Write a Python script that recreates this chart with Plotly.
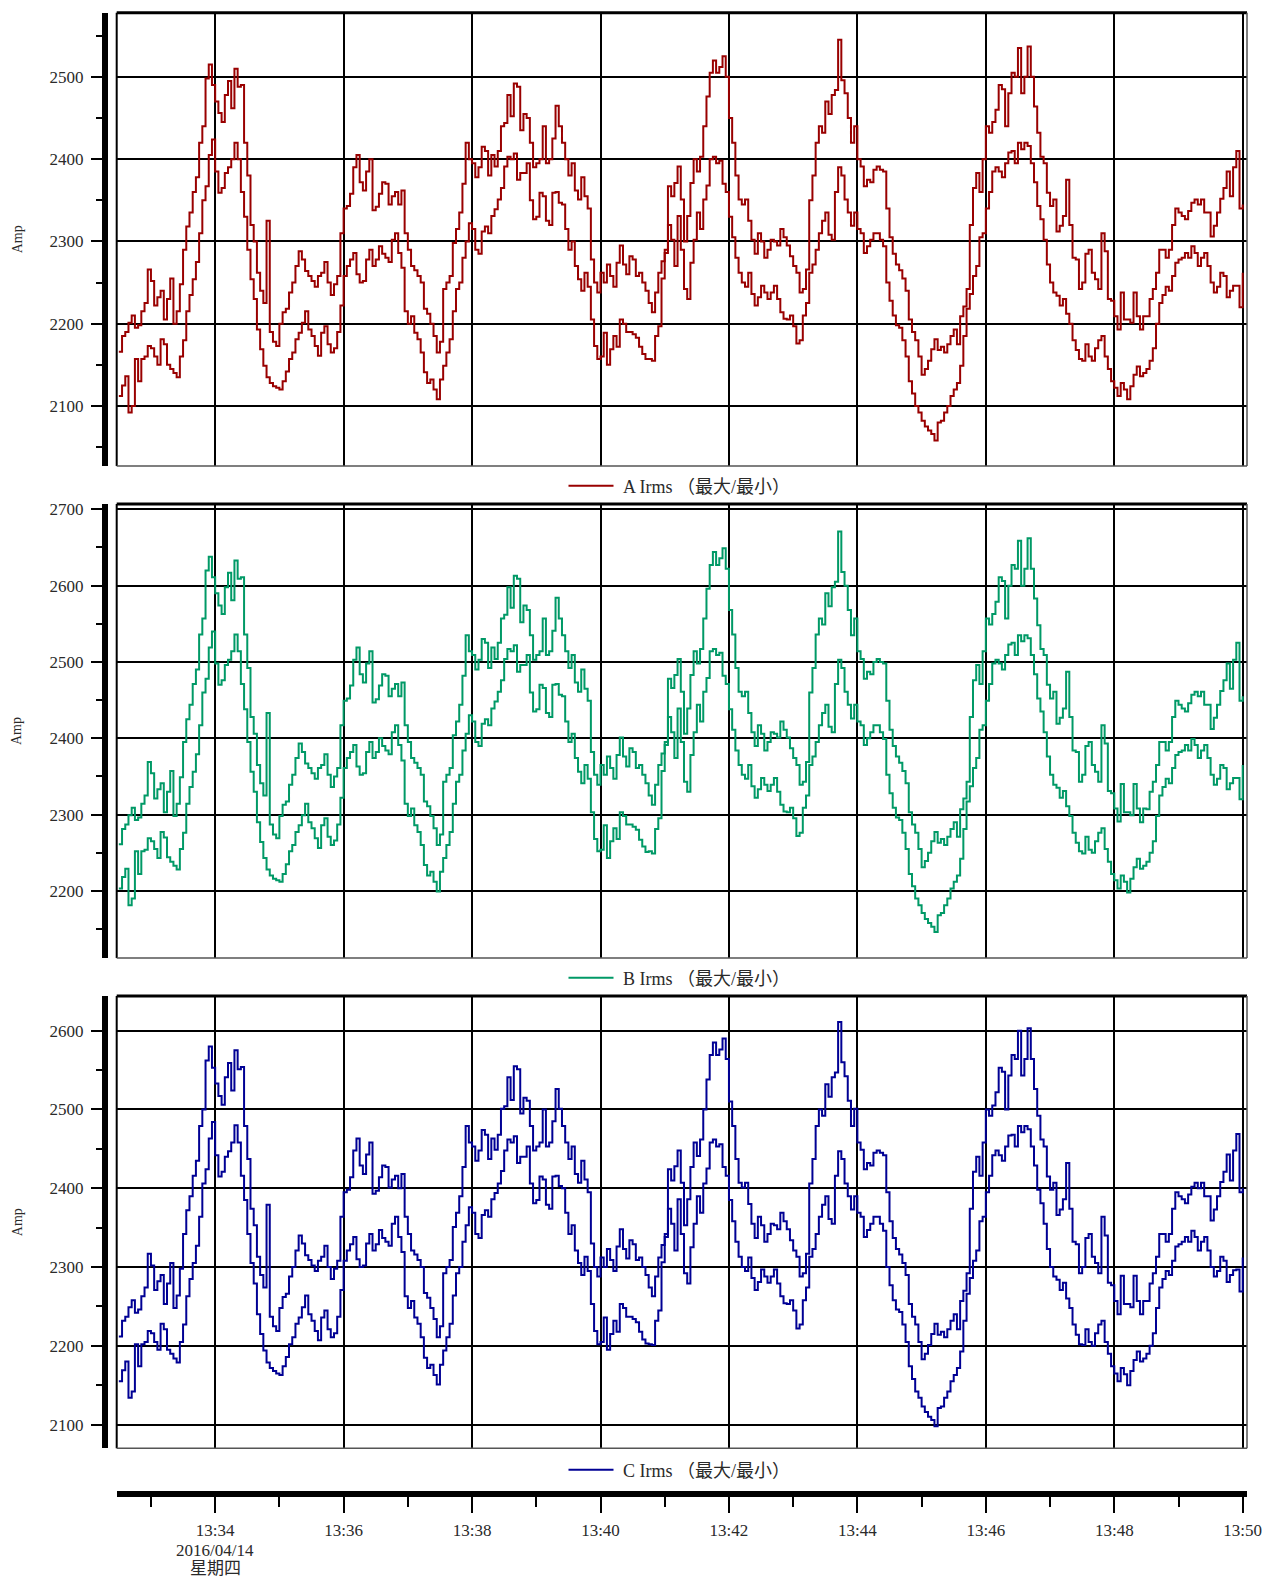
import pandas as pd
import plotly.graph_objects as go

# ---------------- data (3 s samples; listed as even-step values and in-between values) ----------------
times = pd.date_range("2016-04-14 13:32:30", periods=351, freq="3s")

a_max_even = [2166,2190,2210,2198,2225,2252,2232,2205,2255,2215,
2290,2335,2378,2440,2515,2470,2445,2495,2510,2490,
2380,2300,2240,2325,2178,2200,2218,2250,2288,2264,
2252,2258,2275,2235,2258,2340,2358,2405,2362,2400,
2342,2372,2345,2360,2362,2290,2265,2250,2212,2185,
2178,2250,2298,2335,2420,2395,2390,2410,2405,2410,
2444,2452,2488,2455,2420,2395,2440,2400,2465,2420,
2380,2362,2378,2340,2250,2262,2272,2245,2295,2260,
2278,2262,2240,2214,2262,2290,2355,2391,2300,2371,
2385,2440,2505,2505,2525,2450,2380,2345,2325,2285,
2300,2290,2300,2315,2295,2270,2238,2266,2380,2440,
2470,2478,2545,2480,2420,2400,2367,2372,2391,2385,
2305,2272,2255,2205,2180,2138,2155,2181,2172,2175,
2193,2209,2242,2365,2360,2440,2445,2490,2440,2505,
2535,2500,2500,2432,2395,2343,2312,2331,2320,2278,
2250,2290,2254,2310,2230,2209,2238,2205,2238,2193,
2209,2242,2290,2280,2320,2335,2327,2347,2345,2335,
2306,2335,2365,2355,2410,2345]
a_max_mid = [2185,2201,2195,2215,2266,2222,2240,2230,2200,2248,
2318,2360,2420,2498,2490,2456,2478,2462,2488,2420,
2320,2262,2225,2190,2173,2214,2238,2270,2278,2258,
2245,2262,2250,2248,2310,2343,2390,2372,2385,2338,
2358,2370,2355,2345,2310,2270,2258,2218,2200,2165,
2242,2258,2315,2370,2400,2378,2415,2380,2391,2440,
2478,2492,2435,2450,2390,2400,2395,2425,2440,2400,
2395,2351,2355,2278,2238,2250,2258,2274,2272,2282,
2258,2250,2225,2238,2276,2367,2371,2351,2331,2400,
2403,2476,2520,2512,2500,2420,2351,2351,2302,2310,
2280,2302,2295,2305,2282,2262,2242,2350,2420,2432,
2455,2484,2496,2450,2440,2391,2375,2387,2387,2340,
2285,2265,2240,2190,2160,2145,2169,2168,2165,2185,
2175,2221,2320,2383,2400,2432,2460,2485,2480,2500,
2480,2537,2464,2403,2359,2351,2319,2375,2280,2242,
2285,2262,2242,2288,2228,2193,2205,2201,2209,2209,
2230,2262,2290,2290,2340,2331,2337,2351,2351,2335,
2319,2352,2385,2390,2340]

a_min_even = [2112,2136,2100,2130,2160,2170,2150,2175,2145,2135,
2180,2235,2275,2350,2405,2385,2365,2390,2420,2360,
2290,2230,2169,2135,2124,2120,2142,2165,2189,2215,
2185,2161,2197,2165,2190,2258,2278,2260,2252,2290,
2278,2285,2275,2310,2268,2200,2189,2165,2128,2120,
2132,2165,2215,2250,2300,2315,2285,2318,2331,2351,
2391,2400,2375,2383,2350,2330,2355,2320,2360,2345,
2290,2270,2240,2245,2173,2160,2150,2185,2205,2190,
2187,2172,2157,2155,2197,2286,2302,2331,2242,2274,
2335,2351,2400,2395,2370,2330,2280,2250,2262,2222,
2246,2230,2246,2214,2205,2197,2180,2225,2272,2310,
2335,2302,2390,2351,2319,2315,2286,2302,2310,2294,
2228,2198,2180,2130,2100,2082,2070,2058,2082,2100,
2120,2149,2218,2258,2305,2340,2385,2385,2395,2410,
2420,2420,2395,2343,2302,2250,2234,2230,2200,2168,
2155,2160,2170,2185,2145,2122,2128,2108,2138,2136,
2145,2170,2225,2245,2258,2278,2286,2294,2270,2286,
2250,2245,2258,2240,2246,2262]
a_min_mid = [2125,2092,2157,2157,2173,2160,2181,2150,2140,2160,
2215,2254,2310,2367,2424,2359,2383,2400,2400,2330,
2254,2193,2149,2128,2122,2130,2157,2181,2201,2193,
2173,2189,2175,2170,2222,2270,2286,2250,2278,2270,
2294,2280,2302,2286,2215,2209,2181,2141,2132,2108,
2149,2181,2242,2280,2322,2290,2312,2310,2339,2365,
2403,2407,2383,2395,2327,2359,2325,2359,2347,2315,
2300,2254,2262,2205,2157,2189,2169,2172,2200,2190,
2183,2163,2157,2185,2255,2320,2270,2290,2230,2302,
2315,2368,2403,2398,2360,2305,2262,2245,2236,2232,
2238,2238,2230,2206,2210,2176,2210,2262,2290,2325,
2308,2360,2380,2335,2335,2310,2294,2310,2302,2250,
2210,2195,2160,2115,2092,2075,2066,2080,2092,2112,
2128,2185,2236,2270,2310,2360,2390,2378,2408,2395,
2412,2416,2372,2327,2272,2238,2222,2212,2180,2157,
2175,2155,2180,2160,2130,2112,2120,2124,2148,2140,
2155,2200,2235,2240,2274,2280,2280,2286,2280,2270,
2238,2262,2232,2246,2220]

b_max_even = [2261,2287,2309,2296,2325,2354,2333,2303,2357,2314,
2395,2444,2490,2557,2638,2590,2563,2617,2633,2611,
2492,2406,2341,2433,2274,2298,2317,2352,2393,2367,
2354,2361,2379,2336,2361,2449,2469,2519,2473,2514,
2451,2484,2455,2471,2473,2395,2368,2352,2311,2282,
2274,2352,2404,2444,2535,2509,2503,2525,2519,2525,
2562,2571,2609,2574,2535,2509,2557,2514,2584,2535,
2492,2473,2490,2449,2352,2365,2376,2347,2401,2363,
2382,2365,2341,2313,2365,2395,2466,2504,2406,2483,
2498,2557,2627,2627,2649,2568,2492,2455,2433,2390,
2406,2395,2406,2422,2401,2374,2339,2369,2492,2557,
2590,2598,2671,2600,2535,2514,2478,2484,2504,2498,
2411,2376,2357,2303,2276,2231,2250,2277,2268,2271,
2290,2307,2343,2476,2471,2557,2563,2611,2557,2627,
2659,2622,2622,2548,2509,2452,2419,2439,2428,2382,
2352,2395,2356,2417,2331,2308,2340,2303,2340,2290,
2307,2343,2395,2384,2428,2444,2435,2457,2455,2444,
2412,2444,2476,2465,2525,2455]
b_max_mid = [2281,2299,2293,2314,2369,2321,2341,2330,2298,2349,
2425,2471,2536,2620,2611,2574,2598,2581,2609,2536,
2428,2365,2325,2287,2269,2313,2339,2374,2382,2361,
2347,2365,2352,2350,2417,2452,2503,2484,2498,2447,
2469,2482,2465,2455,2417,2374,2361,2317,2298,2260,
2343,2361,2422,2482,2514,2490,2530,2492,2504,2557,
2598,2613,2552,2568,2503,2514,2509,2541,2557,2514,
2509,2461,2465,2382,2339,2352,2361,2378,2376,2387,
2361,2352,2325,2339,2380,2478,2483,2461,2439,2514,
2517,2596,2644,2636,2622,2536,2461,2461,2408,2417,
2384,2408,2401,2411,2387,2365,2343,2460,2536,2549,
2573,2605,2618,2568,2557,2504,2487,2500,2500,2449,
2390,2368,2341,2287,2255,2239,2265,2263,2260,2281,
2271,2321,2428,2496,2514,2549,2579,2606,2600,2622,
2600,2662,2583,2517,2470,2461,2427,2487,2384,2343,
2390,2365,2343,2393,2328,2291,2303,2299,2308,2308,
2330,2365,2395,2395,2449,2439,2446,2461,2461,2444,
2427,2462,2498,2503,2449]

b_min_even = [2203,2229,2190,2222,2254,2265,2243,2270,2238,2228,
2276,2336,2379,2460,2519,2498,2476,2503,2536,2471,
2395,2330,2264,2228,2216,2212,2235,2260,2286,2314,
2282,2256,2295,2260,2287,2361,2382,2363,2354,2395,
2382,2390,2379,2417,2371,2298,2286,2260,2220,2212,
2225,2260,2314,2352,2406,2422,2390,2425,2439,2461,
2504,2514,2487,2496,2460,2438,2466,2428,2471,2455,
2395,2374,2341,2347,2268,2254,2243,2282,2303,2287,
2284,2267,2251,2249,2295,2391,2408,2439,2343,2378,
2444,2461,2514,2509,2482,2438,2384,2352,2365,2322,
2348,2331,2348,2313,2303,2295,2276,2325,2376,2417,
2444,2408,2503,2461,2426,2422,2391,2408,2417,2399,
2328,2296,2276,2222,2190,2171,2158,2146,2171,2190,
2212,2242,2317,2361,2411,2449,2498,2498,2509,2525,
2535,2535,2509,2452,2408,2352,2335,2331,2298,2263,
2249,2254,2265,2282,2238,2214,2220,2198,2231,2229,
2238,2265,2325,2347,2361,2382,2391,2399,2374,2391,
2352,2347,2361,2341,2348,2365]
b_min_mid = [2218,2181,2252,2252,2269,2255,2277,2244,2233,2255,
2314,2356,2417,2478,2540,2470,2496,2514,2514,2438,
2356,2290,2243,2220,2214,2222,2252,2277,2299,2290,
2269,2286,2271,2266,2322,2374,2391,2352,2382,2374,
2400,2384,2408,2391,2314,2308,2277,2234,2225,2199,
2243,2277,2343,2384,2430,2395,2419,2417,2448,2476,
2517,2522,2496,2509,2435,2470,2433,2470,2457,2422,
2406,2356,2365,2303,2252,2286,2265,2268,2298,2287,
2280,2258,2252,2281,2357,2428,2374,2395,2330,2408,
2422,2479,2517,2512,2471,2411,2365,2347,2337,2333,
2339,2339,2330,2304,2309,2272,2309,2365,2395,2433,
2415,2471,2492,2444,2444,2417,2400,2417,2408,2352,
2309,2293,2255,2206,2181,2163,2153,2168,2181,2203,
2220,2281,2337,2374,2417,2471,2503,2490,2523,2509,
2527,2531,2484,2435,2376,2339,2322,2311,2276,2252,
2271,2250,2276,2255,2222,2203,2212,2216,2242,2233,
2250,2298,2336,2341,2378,2384,2384,2391,2384,2374,
2339,2365,2333,2348,2320]

c_max_even = [2212,2237,2258,2246,2274,2302,2282,2253,2305,2264,
2342,2390,2435,2500,2580,2533,2506,2559,2575,2554,
2437,2353,2290,2379,2225,2248,2266,2300,2340,2315,
2302,2308,2327,2285,2308,2395,2414,2463,2418,2458,
2397,2429,2401,2416,2418,2342,2316,2300,2261,2234,
2225,2300,2351,2390,2479,2453,2448,2468,2463,2468,
2504,2512,2551,2515,2479,2453,2500,2458,2526,2479,
2437,2418,2435,2395,2300,2312,2323,2295,2348,2311,
2329,2312,2290,2263,2312,2342,2410,2448,2353,2427,
2441,2500,2569,2569,2590,2510,2437,2401,2380,2337,
2353,2342,2353,2369,2348,2321,2288,2317,2437,2500,
2532,2541,2611,2542,2479,2458,2424,2429,2448,2442,
2358,2323,2305,2253,2227,2183,2201,2228,2218,2221,
2240,2257,2292,2421,2416,2500,2505,2553,2500,2569,
2600,2564,2564,2492,2453,2398,2366,2386,2374,2329,
2300,2342,2305,2364,2280,2257,2289,2253,2289,2240,
2257,2292,2342,2332,2374,2390,2381,2402,2400,2390,
2359,2390,2421,2410,2469,2400]
c_max_mid = [2232,2249,2242,2263,2317,2271,2290,2279,2248,2298,
2372,2416,2479,2562,2553,2517,2541,2524,2551,2479,
2374,2313,2274,2237,2219,2262,2288,2321,2330,2309,
2295,2313,2300,2298,2364,2398,2448,2429,2443,2393,
2414,2427,2411,2400,2364,2321,2309,2267,2248,2211,
2292,2309,2369,2427,2458,2435,2474,2437,2449,2501,
2541,2555,2495,2511,2448,2458,2453,2485,2501,2458,
2453,2407,2411,2330,2288,2300,2309,2326,2323,2334,
2309,2300,2274,2288,2328,2424,2428,2407,2386,2458,
2462,2538,2585,2576,2564,2479,2407,2407,2355,2364,
2332,2355,2348,2358,2334,2313,2292,2406,2479,2492,
2516,2547,2560,2511,2501,2449,2432,2445,2445,2395,
2337,2316,2290,2237,2205,2190,2215,2214,2211,2232,
2221,2270,2374,2440,2458,2492,2522,2548,2543,2564,
2543,2603,2526,2462,2415,2407,2373,2432,2332,2292,
2337,2313,2292,2340,2277,2240,2253,2249,2257,2257,
2279,2313,2342,2342,2395,2386,2392,2407,2407,2390,
2373,2408,2443,2448,2395]

c_min_even = [2155,2180,2142,2174,2205,2216,2195,2221,2190,2179,
2227,2285,2327,2406,2463,2442,2421,2447,2480,2416,
2342,2279,2215,2179,2168,2163,2186,2211,2236,2264,
2232,2207,2245,2211,2237,2308,2329,2310,2302,2342,
2329,2337,2327,2364,2319,2248,2236,2211,2172,2163,
2176,2211,2264,2300,2353,2369,2337,2372,2386,2406,
2448,2458,2432,2440,2406,2385,2411,2374,2416,2400,
2342,2321,2290,2295,2219,2205,2195,2232,2253,2237,
2234,2218,2203,2201,2245,2338,2355,2386,2292,2325,
2390,2406,2458,2453,2427,2385,2332,2300,2312,2271,
2297,2280,2297,2263,2253,2245,2227,2274,2323,2364,
2390,2355,2447,2406,2373,2369,2338,2355,2364,2346,
2277,2246,2227,2174,2142,2123,2110,2098,2123,2142,
2163,2193,2266,2308,2358,2395,2442,2442,2453,2468,
2479,2479,2453,2398,2355,2300,2284,2280,2248,2214,
2201,2205,2216,2232,2190,2165,2172,2150,2182,2180,
2190,2216,2274,2295,2308,2329,2338,2346,2321,2338,
2300,2295,2308,2290,2297,2312]
c_min_mid = [2169,2134,2202,2202,2219,2205,2228,2195,2184,2205,
2263,2305,2364,2424,2484,2415,2440,2458,2458,2385,
2305,2240,2194,2172,2165,2174,2202,2228,2249,2240,
2219,2236,2221,2216,2271,2321,2338,2300,2330,2321,
2347,2332,2355,2338,2263,2257,2228,2185,2176,2151,
2194,2228,2292,2332,2376,2342,2366,2364,2394,2422,
2462,2466,2440,2453,2381,2415,2379,2415,2403,2369,
2353,2305,2313,2253,2202,2236,2215,2218,2248,2237,
2230,2208,2202,2232,2306,2374,2321,2342,2279,2355,
2369,2425,2462,2456,2416,2358,2313,2295,2286,2281,
2288,2288,2279,2254,2258,2222,2258,2313,2342,2379,
2361,2416,2437,2390,2390,2364,2347,2364,2355,2300,
2258,2243,2205,2158,2134,2116,2106,2121,2134,2155,
2172,2232,2286,2321,2364,2416,2448,2435,2467,2453,
2471,2475,2429,2381,2323,2288,2271,2260,2227,2202,
2221,2200,2227,2205,2174,2155,2164,2168,2193,2184,
2200,2248,2285,2290,2326,2332,2332,2338,2332,2321,
2288,2313,2281,2296,2269]

major_ticks = ["2016-04-14 13:%02d:00" % m for m in range(34, 51, 2)]
minor_ticks = ["2016-04-14 13:%02d:00" % m for m in range(33, 50, 2)]
tick_text = ["13:%02d" % m for m in range(34, 51, 2)]
date_lines = ["2016/04/14", "星期四"]


def merge(even, mid):
    out = []
    for i, v in enumerate(even):
        out.append(v)
        if i < len(mid):
            out.append(mid[i])
    return out


panels = [
    ("\u00a0A Irms （最大/最小）", merge(a_max_even, a_max_mid), merge(a_min_even, a_min_mid), "#990000", [2027, 2578]),
    ("\u00a0B Irms （最大/最小）", merge(b_max_even, b_max_mid), merge(b_min_even, b_min_mid), "#009966", [2112, 2707]),
    ("\u00a0C Irms （最大/最小）", merge(c_max_even, c_max_mid), merge(c_min_even, c_min_mid), "#000094", [2070, 2644]),
]

# ---------------- layout geometry (pixels) ----------------
W, H = 1265, 1578
X_LEFT, X_RIGHT = 116.7, 1247.0
PANEL_PX = [(12.7, 466.0), (504.0, 958.0), (996.0, 1448.3)]
LEGEND_Y = [486, 978, 1470]
YAXIS_X = 105.0
XAXIS_Y = 1494.0

FONT = "Liberation Serif, Noto Sans CJK SC, serif"
TXT = "#2a2a2a"

fig = go.Figure()
layout = dict(
    width=W, height=H, margin=dict(l=0, r=0, t=0, b=0, autoexpand=False),
    paper_bgcolor="white", plot_bgcolor="white",
    font=dict(family=FONT, size=17, color=TXT),
    shapes=[], annotations=[],
)

x_range = ["2016-04-14 13:32:28", "2016-04-14 13:50:04"]

for k, (name, vmax, vmin, color, yr) in enumerate(panels):
    n = "" if k == 0 else str(k + 1)
    xa, ya = "x" + n, "y" + n
    leg = "legend" + n
    fig.add_trace(go.Scatter(x=times, y=vmax, mode="lines", name=name,
                             line=dict(color=color, width=2, shape="hv"),
                             xaxis=xa, yaxis=ya, legend=leg, showlegend=True))
    fig.add_trace(go.Scatter(x=times, y=vmin, mode="lines", name=name,
                             line=dict(color=color, width=2, shape="hv"),
                             xaxis=xa, yaxis=ya, legend=leg, showlegend=False))

    top, bot = PANEL_PX[k]
    xaxis = dict(
        domain=[X_LEFT / W, X_RIGHT / W], range=x_range, type="date",
        tickmode="array", tickvals=major_ticks,
        showgrid=True, gridcolor="black", gridwidth=2,
        zeroline=False, showline=False, ticks="", automargin=False,
        showticklabels=False, anchor=ya,
    )
    if k == 2:
        xaxis.update(
            anchor="free", position=1 - XAXIS_Y / H,
            showline=True, linecolor="black", linewidth=6,
            ticks="outside", ticklen=16, tickwidth=2, tickcolor="black",
            ticklabelstandoff=3,
            showticklabels=True, ticktext=tick_text,
            tickfont=dict(family=FONT, size=17, color=TXT),
            minor=dict(tickmode="array", tickvals=minor_ticks, ticks="outside",
                       ticklen=10, tickwidth=2, tickcolor="black", showgrid=False),
        )
    else:
        xaxis.update(matches="x3")
    layout["xaxis" + n] = xaxis

    layout["yaxis" + n] = dict(
        domain=[1 - bot / H, 1 - top / H], range=yr,
        anchor="free", position=YAXIS_X / W, automargin=False,
        tickmode="linear", tick0=0, dtick=100,
        showgrid=True, gridcolor="black", gridwidth=2, zeroline=False,
        showline=True, linecolor="black", linewidth=6,
        ticks="outside", ticklen=11, tickwidth=2, tickcolor="black",
        ticklabelstandoff=4,
        minor=dict(tickmode="linear", tick0=0, dtick=50, ticks="outside",
                   ticklen=6, tickwidth=2, tickcolor="black", showgrid=False),
        tickfont=dict(family=FONT, size=17, color=TXT),
    )

    # frame of the plot area
    xd, yd = xa + " domain", ya + " domain"
    layout["shapes"] += [
        dict(type="line", xref=xd, yref=yd, x0=0, x1=1, y0=1, y1=1,
             line=dict(color="black", width=3)),
        dict(type="line", xref=xd, yref=yd, x0=0, x1=0, y0=0, y1=1,
             line=dict(color="black", width=2)),
        dict(type="line", xref=xd, yref=yd, x0=1, x1=1, y0=0, y1=1,
             line=dict(color="#555555", width=1.5)),
        dict(type="line", xref=xd, yref=yd, x0=0, x1=1, y0=0, y1=0,
             line=dict(color="#555555", width=1.5)),
    ]

    layout["annotations"].append(dict(
        text="Amp", xref="paper", yref="paper", x=17 / W,
        y=1 - (top + bot) / 2 / H, textangle=-90, showarrow=False,
        font=dict(family=FONT, size=14, color=TXT), xanchor="center", yanchor="middle"))

    layout[leg] = dict(
        x=563.5 / W, y=1 - LEGEND_Y[k] / H, xanchor="left", yanchor="middle",
        orientation="h", bgcolor="rgba(0,0,0,0)", borderwidth=0,
        itemwidth=45, font=dict(family=FONT, size=18, color=TXT),
    )

# date / weekday lines under the first time label
for j, line_txt in enumerate(date_lines):
    layout["annotations"].append(dict(
        text=line_txt, xref="x3", yref="paper", x=major_ticks[0],
        y=1 - (1550 + 18 * j) / H, showarrow=False, xanchor="center", yanchor="middle",
        font=dict(family=FONT, size=17, color=TXT)))

fig.update_layout(**layout)
fig.write_html("out.html")
